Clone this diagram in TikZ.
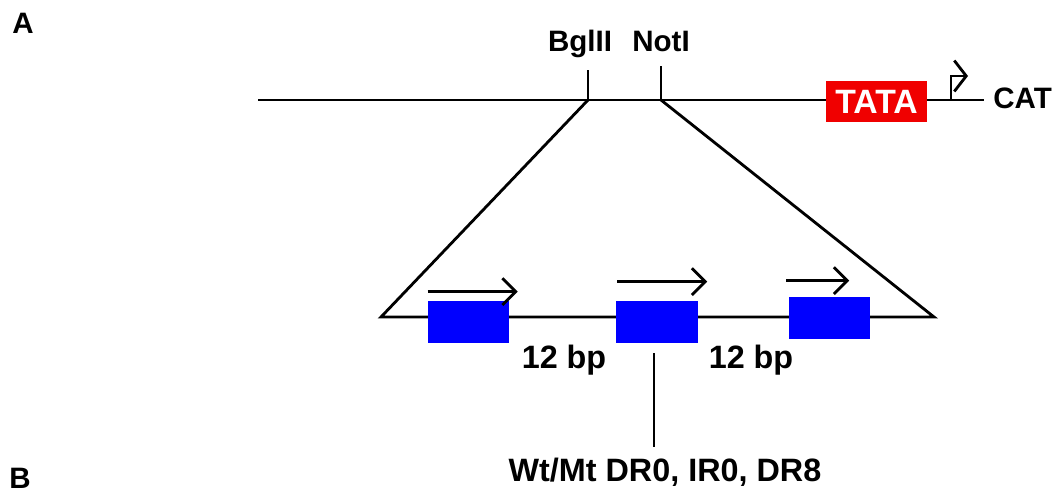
\documentclass[tikz,border=0pt]{standalone}
\usepackage{fontspec}
\setmainfont{Liberation Sans}
\usetikzlibrary{arrows.meta,positioning}
\definecolor{siteblue}{RGB}{0,0,255}
\definecolor{tatared}{RGB}{240,0,0}

\begin{document}
\begin{tikzpicture}[
  x=0.025cm, y=-0.025cm,
  every node/.style={font=\fontsize{22}{26}\selectfont\bfseries, inner sep=0pt},
  dna/.style={line width=2pt},
  site/.style={fill=siteblue, minimum width=2.025cm, minimum height=1.05cm},
  orient/.style={line width=2pt, -{Straight Barb[length=9.5pt,width=19pt,line width=2pt]}},
]
  \useasboundingbox (0,0) rectangle (1057,493);
  % panel letters
  \node[anchor=base, font=\fontsize{21}{24}\selectfont\bfseries] (lblA) at (23,33) {A};
  \node[anchor=base, font=\fontsize{21}{24}\selectfont\bfseries] (lblB) at (20,488) {B};
  % reporter construct
  \coordinate (up-l) at (258,100);
  \coordinate (up-r) at (984,100);
  \coordinate (bgl) at (588,100);
  \coordinate (not) at (661,100);
  \draw[dna] (up-l) -- (up-r);
  \node[fill=tatared, text=white, minimum width=2.525cm, minimum height=1.025cm,
        font=\fontsize{24}{28}\selectfont\bfseries] (tata) at (876.5,101.5) {TATA};
  \node[anchor=base west, font=\fontsize{21}{25}\selectfont\bfseries] (cat) at (993,108) {CAT};
  % start site
  \coordinate (tss) at (951,100);
  \coordinate (tss-up) at (951,76);
  \coordinate (tss-tip) at (968,76);
  \draw[orient, -{Straight Barb[length=8.5pt,width=22pt,line width=2pt]}] (tss) -- (tss-up) -- (tss-tip);
  % cloning sites
  \coordinate (bgl-top) at (588,70);
  \coordinate (not-top) at (661,66);
  \draw[dna] (bgl) -- (bgl-top);
  \draw[dna] (not) -- (not-top);
  \node[anchor=base, font=\fontsize{21}{24}\selectfont\bfseries] (bgl-lbl) at (580,51) {BglII};
  \node[anchor=base, font=\fontsize{21}{24}\selectfont\bfseries] (not-lbl) at (661,51) {NotI};
  % insert
  \coordinate (low-l) at (381,317);
  \coordinate (low-r) at (934,317);
  \draw[dna] (bgl) -- (low-l) -- (low-r) -- (not);
  \node[site] (site1) at (468.5,322) {};
  \node[site] (site2) at (657,322) {};
  \node[site] (site3) at (829,318) {};
  \draw[orient] ([yshift=0.225cm]site1.north west) -- +(90,0);
  \draw[orient] ([yshift=0.475cm,xshift=0.025cm]site2.north west) -- +(90,0);
  \draw[orient] ([yshift=0.4cm,xshift=-0.05cm]site3.north west) -- +(63,0);
  \node[anchor=base, font=\fontsize{23}{27}\selectfont\bfseries] (gap1) at (564,368) {12 bp};
  \node[anchor=base, font=\fontsize{23}{27}\selectfont\bfseries] (gap2) at (751,368) {12 bp};
  % mutants
  \coordinate (stem-t) at (654,353);
  \coordinate (stem-b) at (654,447);
  \draw[dna] (stem-t) -- (stem-b);
  \node[anchor=base, font=\fontsize{23}{27}\selectfont\bfseries] (mut) at (665,481) {Wt/Mt DR0, IR0, DR8};
\end{tikzpicture}
\end{document}
